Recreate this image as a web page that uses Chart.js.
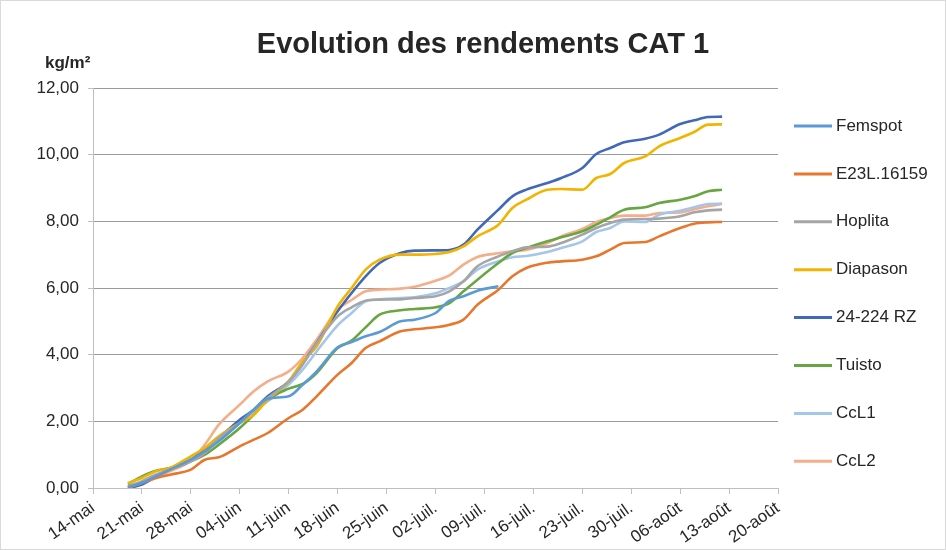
<!DOCTYPE html>
<html>
<head>
<meta charset="utf-8">
<script src="https://cdn.jsdelivr.net/npm/chart.js@4.4.1/dist/chart.umd.min.js"></script>
<style>
  body { margin: 0; background: #fff; }
  #wrap { width: 946px; height: 550px; }
</style>
</head>
<body>
<div id="wrap"><canvas id="chart" width="946" height="550"></canvas></div>
<script>
// days counted from 14-mai
const days = [5, 7, 9, 11, 14, 16, 18, 21, 23, 25, 28, 30, 32, 35, 37, 39, 41, 44, 46, 49, 51, 53, 55, 58,
  60, 62, 65, 67, 70, 72, 74, 76, 79, 81, 84, 86, 88, 90];
const tickLabels = ['14-mai', '21-mai', '28-mai', '04-juin', '11-juin', '18-juin', '25-juin', '02-juil.',
  '09-juil.', '16-juil.', '23-juil.', '30-juil.', '06-août', '13-août', '20-août'];

const femspot = [0.03, 0.15, 0.35, 0.55, 0.85, 1.1, 1.4, 1.95, 2.35, 2.68, 2.75, 3.1, 3.5, 4.22, 4.38, 4.55, 4.68, 5.0, 5.05, 5.25, 5.62, 5.75, 5.92, 6.05,
  null, null, null, null, null, null, null, null, null, null, null, null, null, null];
const e23l = [0.0, 0.15, 0.3, 0.4, 0.55, 0.85, 0.92, 1.25, 1.45, 1.65, 2.1, 2.35, 2.75, 3.4, 3.75, 4.2, 4.4, 4.7, 4.76, 4.82, 4.9, 5.05, 5.5, 5.95,
  6.35, 6.6, 6.76, 6.8, 6.85, 6.95, 7.15, 7.35, 7.38, 7.55, 7.8, 7.93, 7.97, 7.98];
const hoplita = [0.05, 0.2, 0.4, 0.55, 0.8, 1.05, 1.5, 1.95, 2.35, 2.7, 3.2, 3.7, 4.35, 5.15, 5.42, 5.62, 5.65, 5.66, 5.7, 5.75, 5.9, 6.2, 6.65, 6.95,
  7.1, 7.22, 7.24, 7.35, 7.6, 7.8, 7.95, 8.05, 8.07, 8.08, 8.15, 8.27, 8.33, 8.35];
const diapason = [0.15, 0.3, 0.5, 0.6, 0.95, 1.2, 1.55, 1.95, 2.2, 2.65, 3.2, 3.8, 4.25, 5.45, 6.0, 6.55, 6.85, 7.0, 7.0, 7.02, 7.08, 7.25, 7.55, 7.9,
  8.4, 8.65, 8.95, 8.97, 8.95, 9.3, 9.42, 9.75, 9.95, 10.25, 10.5, 10.68, 10.9, 10.91];
const rz224 = [0.0, 0.1, 0.35, 0.55, 0.85, 1.15, 1.5, 2.05, 2.35, 2.75, 3.2, 3.75, 4.35, 5.3, 5.85, 6.35, 6.75, 7.05, 7.12, 7.13, 7.14, 7.3, 7.75, 8.35,
  8.75, 8.95, 9.15, 9.3, 9.6, 10.02, 10.2, 10.37, 10.48, 10.6, 10.92, 11.03, 11.13, 11.14];
const tuisto = [0.12, 0.35, 0.52, 0.6, 0.8, 1.0, 1.3, 1.8, 2.2, 2.65, 2.98, 3.12, 3.45, 4.2, 4.42, 4.82, 5.2, 5.33, 5.37, 5.42, 5.55, 5.9, 6.25, 6.75,
  7.05, 7.2, 7.4, 7.52, 7.7, 7.9, 8.12, 8.35, 8.42, 8.55, 8.65, 8.75, 8.9, 8.95];
const ccl1 = [0.05, 0.2, 0.4, 0.55, 0.85, 1.1, 1.45, 1.95, 2.3, 2.6, 3.1, 3.55, 4.1, 4.88, 5.25, 5.6, 5.66, 5.7, 5.72, 5.84, 6.0, 6.2, 6.55, 6.8,
  6.92, 6.96, 7.08, 7.2, 7.4, 7.68, 7.8, 8.0, 7.98, 8.2, 8.32, 8.42, 8.52, 8.53];
const ccl2 = [0.05, 0.15, 0.3, 0.5, 0.82, 1.3, 1.9, 2.5, 2.9, 3.2, 3.5, 3.9, 4.45, 5.35, 5.64, 5.9, 5.95, 5.98, 6.04, 6.22, 6.38, 6.7, 6.93, 7.04,
  7.1, 7.14, 7.35, 7.55, 7.77, 7.98, 8.1, 8.17, 8.17, 8.25, 8.27, 8.36, 8.45, 8.52];

const seriesNames = ['Femspot', 'E23L.16159', 'Hoplita', 'Diapason', '24-224 RZ', 'Tuisto', 'CcL1', 'CcL2'];
const seriesValues = [femspot, e23l, hoplita, diapason, rz224, tuisto, ccl1, ccl2];
const colors = ['#5B9BD5', '#E8772E', '#A5A5A5', '#F2B400', '#4169B8', '#68A642', '#A3C6EA', '#F4AE8A'];

const FONT = 'Liberation Sans, Arial, sans-serif';
const TEXT = '#262626';

// title, unit label, legend and outer border
const decorations = {
  id: 'decorations',
  afterDraw(chart) {
    const ctx = chart.ctx;
    ctx.save();
    ctx.strokeStyle = '#d9d9d9';
    ctx.lineWidth = 1;
    ctx.strokeRect(0.5, 0.5, 945, 549);

    ctx.fillStyle = TEXT;
    ctx.textAlign = 'center';
    ctx.textBaseline = 'alphabetic';
    ctx.font = 'bold 29px ' + FONT;
    ctx.fillText('Evolution des rendements CAT 1', 483, 53);

    ctx.textAlign = 'left';
    ctx.font = 'bold 17px ' + FONT;
    ctx.fillText('kg/m²', 45, 68);

    ctx.font = '17px ' + FONT;
    ctx.textBaseline = 'middle';
    seriesNames.forEach((name, i) => {
      const y = 126 + i * 47.9;
      ctx.strokeStyle = colors[i];
      ctx.lineWidth = 3;
      ctx.beginPath();
      ctx.moveTo(794, y);
      ctx.lineTo(832, y);
      ctx.stroke();
      ctx.fillStyle = TEXT;
      ctx.fillText(name, 836, y);
    });
    ctx.restore();
  }
};

const datasets = seriesNames.map((name, i) => ({
  label: name,
  data: days.map((d, j) => ({ x: d, y: seriesValues[i][j] })),
  borderColor: colors[i],
  backgroundColor: colors[i],
  borderWidth: 2.6,
  pointRadius: 0,
  cubicInterpolationMode: 'monotone',
  spanGaps: false
}));

new Chart(document.getElementById('chart'), {
  type: 'line',
  data: { datasets },
  plugins: [decorations],
  options: {
    responsive: false,
    animation: false,
    layout: { padding: { top: 88, right: 168, bottom: 0, left: 0 } },
    plugins: {
      legend: { display: false },
      title: { display: false },
      tooltip: { enabled: false }
    },
    scales: {
      x: {
        type: 'linear',
        min: 0,
        max: 98,
        afterFit: (scale) => { scale.height = 62; },
        ticks: {
          stepSize: 7,
          autoSkip: false,
          minRotation: 35,
          maxRotation: 35,
          padding: 4,
          color: TEXT,
          font: { family: FONT, size: 17 },
          callback: (v) => tickLabels[v / 7]
        },
        grid: { drawOnChartArea: false, drawTicks: true, tickLength: 6, color: '#bfbfbf' },
        border: { color: '#bfbfbf', width: 1 }
      },
      y: {
        min: 0,
        max: 12,
        afterFit: (scale) => { scale.width = 93; },
        ticks: {
          stepSize: 2,
          padding: 9,
          color: TEXT,
          font: { family: FONT, size: 17 },
          callback: (v) => v.toFixed(2).replace('.', ',')
        },
        grid: {
          color: (c) => c.tick && c.tick.value === 0 ? '#bfbfbf' : '#9a9a9a',
          tickColor: '#bfbfbf',
          tickLength: 5
        },
        border: { color: '#bfbfbf', width: 1 }
      }
    }
  }
});
</script>
</body>
</html>
